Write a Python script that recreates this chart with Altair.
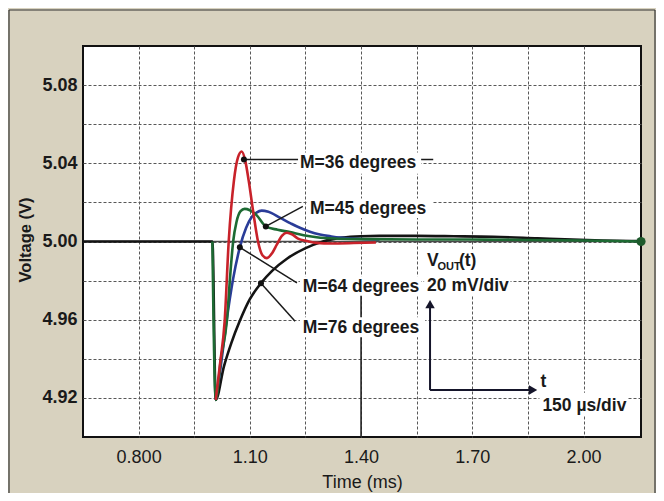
import altair as alt
import pandas as pd

FONT = "Liberation Sans"
INK = "#1a1a1a"

# ---------------- axes ----------------
x_domain = [0.65, 2.155]
y_domain = [4.90, 5.10]
x_grid_values = [0.80, 0.95, 1.10, 1.25, 1.40, 1.55, 1.70, 1.85, 2.00]
x_label_values = [0.80, 1.10, 1.40, 1.70, 2.00]
x_label_texts = ["0.800", "1.10", "1.40", "1.70", "2.00"]
y_grid_values = [4.92, 4.94, 4.96, 4.98, 5.00, 5.02, 5.04, 5.06, 5.08]
y_label_values = [4.92, 4.96, 5.00, 5.04, 5.08]
y_label_texts = ["4.92", "4.96", "5.00", "5.04", "5.08"]

# ---------------- series (time in ms, voltage in V) ----------------
black_t = [0.65, 0.999, 1.008, 1.030, 1.050, 1.073, 1.100, 1.130, 1.160, 1.200, 1.249,
           1.297, 1.350, 1.400, 1.450, 1.550, 1.650, 1.757, 1.876, 1.950, 2.050, 2.155]
black_v = [5.000, 5.000, 4.919, 4.936, 4.948, 4.9594, 4.9705, 4.9787, 4.9850, 4.9912, 4.9965,
           5.0000, 5.0020, 5.0027, 5.0029, 5.0029, 5.0027, 5.0024, 5.0016, 5.0011, 5.0005, 5.0002]

blue_t = [1.008, 1.020, 1.037, 1.055, 1.073, 1.090, 1.105, 1.118, 1.132, 1.150, 1.181,
          1.210, 1.235, 1.262, 1.289, 1.320, 1.343, 1.400, 1.450]
blue_v = [4.919, 4.934, 4.959, 4.981, 4.997, 5.007, 5.0125, 5.0148, 5.0158, 5.0152, 5.0122,
          5.0093, 5.0070, 5.0050, 5.0036, 5.0026, 5.0020, 5.0013, 5.0010]

green_t = [0.999, 1.008, 1.022, 1.038, 1.048, 1.055, 1.064, 1.075, 1.086, 1.100, 1.118,
           1.143, 1.175, 1.208, 1.245, 1.280, 1.330, 1.400, 1.550, 1.700, 1.850, 2.000, 2.155]
green_v = [5.000, 4.919, 4.940, 4.9594, 4.985, 5.000, 5.010, 5.0155, 5.0167, 5.0160, 5.0135,
           5.0077, 5.0060, 5.0048, 5.0032, 5.0022, 5.0015, 5.0012, 5.0010, 5.0010, 5.0008, 5.0005, 5.0000]

red_t = [1.008, 1.020, 1.032, 1.043, 1.057, 1.068, 1.078, 1.088, 1.097, 1.110, 1.122, 1.134,
         1.146, 1.160, 1.173, 1.187, 1.200, 1.215, 1.230, 1.254, 1.280, 1.320, 1.380, 1.440]
red_v = [4.919, 4.938, 4.959, 5.000, 5.031, 5.043, 5.046, 5.041, 5.031, 5.014, 5.000, 4.993,
         4.9915, 4.994, 4.9985, 5.003, 5.0045, 5.0035, 5.0015, 5.0003, 4.9993, 4.9990, 4.9992, 4.9995]

# ---------------- annotations ----------------
ann_text = ["M=36 degrees", "M=45 degrees", "M=64 degrees", "M=76 degrees",
            "V", "(t)", "20 mV/div", "t", "150 \u00b5s/div"]
ann_t = [1.235, 1.262, 1.243, 1.243, 1.578, 1.664, 1.578, 1.884, 1.889]
ann_v = [5.0375, 5.0141, 4.9743, 4.9531, 4.9876, 4.9876, 4.9748, 4.9255, 4.9133]
sub_text = ["OUT"]
sub_t = [1.606]
sub_v = [4.9856]

box_t1 = [1.230, 1.255, 1.235, 1.235, 1.570, 1.881]
box_t2 = [1.562, 1.592, 1.562, 1.573, 1.803, 2.119]
box_v1 = [5.0347, 5.0120, 4.9722, 4.9510, 4.9725, 4.9109]
box_v2 = [5.0455, 5.0220, 4.9822, 4.9613, 4.9960, 4.9226]

ptr_t1 = [1.084, 1.143, 1.073, 1.130]
ptr_v1 = [5.042, 5.0077, 4.997, 4.9787]
ptr_t2 = [1.5946, 1.243, 1.227, 1.222]
ptr_v2 = [5.042, 5.018, 4.9788, 4.9592]

arrow_t1 = [1.586, 1.586]
arrow_v1 = [4.924, 4.924]
arrow_t2 = [1.586, 1.864]
arrow_v2 = [4.968, 4.924]


def label_expr(vals, texts):
    expr = "''"
    for v, s in reversed(list(zip(vals, texts))):
        expr = f"abs(datum.value - {v}) < 1e-6 ? '{s}' : ({expr})"
    return expr


x_axis = alt.Axis(values=x_grid_values, labelExpr=label_expr(x_label_values, x_label_texts),
                  title="Time (ms)", grid=True, ticks=False, tickSize=0, domain=False,
                  labelFont=FONT, labelFontSize=18, labelColor=INK, labelPadding=11,
                  labelOverlap=False, labelFlush=False,
                  titleFont=FONT, titleFontSize=18, titleFontWeight="normal", titleColor=INK,
                  titleBaseline="alphabetic", titleY=50,
                  gridColor="#575757", gridDash=[3, 2], gridWidth=1)
y_axis = alt.Axis(values=y_grid_values, labelExpr=label_expr(y_label_values, y_label_texts),
                  title="Voltage (V)", grid=True, ticks=False, tickSize=0, domain=False,
                  labelFont=FONT, labelFontSize=18, labelFontWeight="bold", labelColor=INK,
                  labelPadding=6, labelOverlap=False, labelFlush=False,
                  titleFont=FONT, titleFontSize=16.5, titleFontWeight="bold", titleColor=INK,
                  titleBaseline="alphabetic", titleX=-53, titleY=193.5,
                  gridColor="#575757", gridDash=[3, 2], gridWidth=1)

xs = alt.Scale(domain=x_domain, nice=False, zero=False)
ys = alt.Scale(domain=y_domain, nice=False, zero=False)


def ex(field="t"):
    return alt.X(f"{field}:Q", scale=xs, axis=x_axis)


def ey(field="v"):
    return alt.Y(f"{field}:Q", scale=ys, axis=y_axis)


def line_layer(ts, vs, color):
    df = pd.DataFrame({"t": ts, "v": vs})
    return alt.Chart(df).mark_line(color=color, strokeWidth=2.6, interpolate="monotone",
                                   strokeJoin="round").encode(x=ex(), y=ey())


zero_rule = alt.Chart(pd.DataFrame({"v": [5.0]})).mark_rule(
    color="#4a4a4a", strokeWidth=1.6).encode(y=ey())
mark140 = alt.Chart(pd.DataFrame({"t": [1.40], "v": [4.90], "v2": [4.975]})).mark_rule(
    color="#222222", strokeWidth=1.6).encode(x=ex(), y=ey(), y2="v2:Q")

black = line_layer(black_t, black_v, "#141414")
blue = line_layer(blue_t, blue_v, "#2a3c98")
green = line_layer(green_t, green_v, "#1d6a33")
red = line_layer(red_t, red_v, "#c8222a")

ptr_df = pd.DataFrame({"t": ptr_t1, "v": ptr_v1, "t2": ptr_t2, "v2": ptr_v2})
pointers = alt.Chart(ptr_df).mark_rule(color=INK, strokeWidth=1.5).encode(
    x=ex(), y=ey(), x2="t2:Q", y2="v2:Q")
dots = alt.Chart(ptr_df).mark_circle(color="#111111", size=36, opacity=1).encode(x=ex(), y=ey())
end_dot = alt.Chart(pd.DataFrame({"t": [2.155], "v": [5.0]})).mark_circle(
    color="#1d5a2c", size=85, opacity=1).encode(x=ex(), y=ey())

box_df = pd.DataFrame({"t": box_t1, "t2": box_t2, "v": box_v1, "v2": box_v2})
boxes = alt.Chart(box_df).mark_rect(color="white").encode(x=ex(), x2="t2:Q", y=ey(), y2="v2:Q")

txt_df = pd.DataFrame({"t": ann_t, "v": ann_v, "label": ann_text})
texts = alt.Chart(txt_df).mark_text(align="left", baseline="alphabetic", font=FONT,
                                    fontSize=17.5, fontWeight="bold", color=INK).encode(
    x=ex(), y=ey(), text="label:N")
sub_df = pd.DataFrame({"t": sub_t, "v": sub_v, "label": sub_text})
subs = alt.Chart(sub_df).mark_text(align="left", baseline="alphabetic", font=FONT,
                                   fontSize=11, fontWeight="bold", color=INK).encode(
    x=ex(), y=ey(), text="label:N")

arr_df = pd.DataFrame({"t": arrow_t1, "v": arrow_v1, "t2": arrow_t2, "v2": arrow_v2})
arrows = alt.Chart(arr_df).mark_rule(color="#15152a", strokeWidth=2).encode(
    x=ex(), y=ey(), x2="t2:Q", y2="v2:Q")
head_up = alt.Chart(pd.DataFrame({"t": [arrow_t2[0]], "v": [arrow_v2[0]]})).mark_point(
    shape="triangle-up", filled=True, size=90, color="#15152a", opacity=1).encode(x=ex(), y=ey())
head_right = alt.Chart(pd.DataFrame({"t": [arrow_t2[1]], "v": [arrow_v2[1]]})).mark_point(
    shape="triangle-right", filled=True, size=90, color="#15152a", opacity=1).encode(x=ex(), y=ey())

one = pd.DataFrame({"a": [0]})
frame_l = alt.Chart(one).mark_rule(color="#333333", strokeWidth=1.2).encode(
    x=alt.value(-74), y=alt.value(-36), y2=alt.value(447))
frame_t = alt.Chart(one).mark_rule(color="#333333", strokeWidth=1.2).encode(
    x=alt.value(-74), x2=alt.value(572), y=alt.value(-36))
frame_r = alt.Chart(one).mark_rule(color="#333333", strokeWidth=1.2).encode(
    x=alt.value(572), y=alt.value(-36), y2=alt.value(447))

chart = alt.layer(
    zero_rule, mark140, black, blue, green, red, pointers, dots, end_dot,
    boxes, texts, subs, arrows, head_up, head_right, frame_l, frame_t, frame_r
).properties(
    width=558, height=391, background="#d8d2bf",
    padding={"left": 75, "top": 38, "right": 15, "bottom": 56},
    autosize=alt.AutoSizeParams(type="none"),
).configure(font=FONT).configure_view(fill="white", stroke="#111111", strokeWidth=2)

chart.save("out.html", embed_options={"renderer": "svg", "actions": False})
